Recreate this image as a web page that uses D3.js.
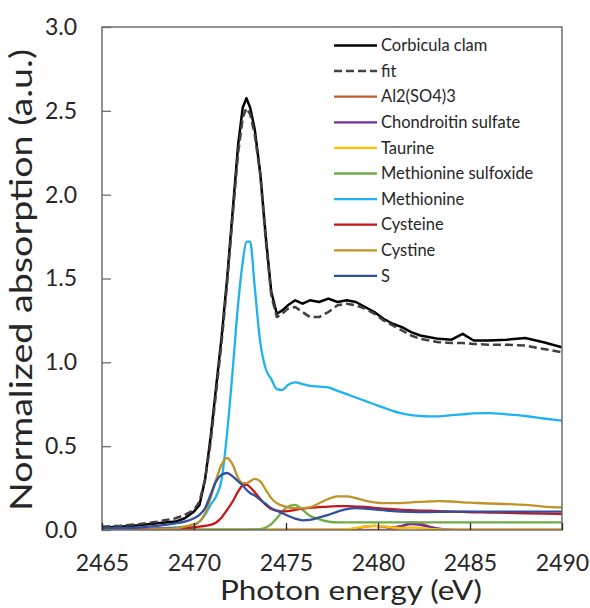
<!DOCTYPE html>
<html>
<head>
<meta charset="utf-8">
<script src="https://cdn.jsdelivr.net/npm/d3@7/dist/d3.min.js"></script>
<style>
  html, body { margin: 0; padding: 0; background: #fff; }
  svg { display: block; }
  text { font-family: Lato, "Open Sans", "DejaVu Sans", sans-serif; fill: #262626; }
</style>
</head>
<body>
<svg id="chart" width="590" height="608"></svg>
<script>
// ---------- data ----------
const energy = [2465, 2466, 2467, 2468, 2469, 2469.5, 2470, 2470.3, 2470.6, 2470.9,
  2471.2, 2471.5, 2471.8, 2472.1, 2472.4, 2472.65, 2472.85, 2473.05, 2473.3, 2473.6,
  2473.9, 2474.2, 2474.5, 2474.8, 2475.1, 2475.5, 2475.9, 2476.3, 2476.8, 2477.3,
  2477.8, 2478.3, 2478.8, 2479.3, 2479.8, 2480.3, 2480.8, 2481.3, 2481.8, 2482.3,
  2482.8, 2483.3, 2484, 2484.6, 2485.2, 2486, 2487, 2488, 2489, 2490];

const clam = [0.015, 0.02, 0.028, 0.04, 0.05, 0.07, 0.11, 0.15, 0.3, 0.55,
  0.85, 1.15, 1.5, 1.9, 2.3, 2.52, 2.575, 2.52, 2.39, 2.13,
  1.75, 1.42, 1.29, 1.31, 1.34, 1.37, 1.35, 1.37, 1.36, 1.38,
  1.36, 1.37, 1.36, 1.33, 1.30, 1.26, 1.23, 1.21, 1.18, 1.16,
  1.15, 1.14, 1.135, 1.17, 1.13, 1.13, 1.135, 1.145, 1.12, 1.09];

const fit = [0.02, 0.025, 0.035, 0.05, 0.07, 0.09, 0.12, 0.17, 0.3, 0.52,
  0.82, 1.12, 1.47, 1.87, 2.25, 2.46, 2.515, 2.48, 2.36, 2.12,
  1.73, 1.40, 1.27, 1.29, 1.32, 1.33, 1.30, 1.27, 1.27, 1.30,
  1.34, 1.35, 1.34, 1.32, 1.29, 1.25, 1.22, 1.19, 1.16, 1.14,
  1.13, 1.12, 1.115, 1.115, 1.11, 1.105, 1.105, 1.10, 1.08, 1.06];

const al2so43 = [0, 0, 0, 0, 0, 0, 0, 0, 0, 0,
  0, 0, 0, 0, 0, 0, 0, 0, 0, 0,
  0, 0, 0, 0, 0, 0, 0, 0, 0, 0,
  0, 0, 0, 0, 0, 0, 0.003, 0.02, 0.045, 0.04,
  0.02, 0.006, 0, 0, 0, 0, 0, 0, 0, 0];

const chondroitin = [0, 0, 0, 0, 0, 0, 0, 0, 0, 0,
  0, 0, 0, 0, 0, 0, 0, 0, 0, 0,
  0, 0, 0, 0, 0, 0, 0, 0, 0, 0,
  0, 0.003, 0.01, 0.02, 0.025, 0.02, 0.015, 0.025, 0.035, 0.03,
  0.018, 0.008, 0.002, 0, 0, 0, 0, 0, 0, 0];

const taurine = [0.002, 0.002, 0.002, 0.002, 0.002, 0.002, 0.002, 0.002, 0.002, 0.002,
  0.002, 0.002, 0.002, 0.002, 0.002, 0.002, 0.002, 0.002, 0.002, 0.002,
  0.002, 0.002, 0.002, 0.002, 0.002, 0.002, 0.002, 0.002, 0.002, 0.002,
  0.002, 0.005, 0.012, 0.02, 0.025, 0.022, 0.015, 0.012, 0.015, 0.012,
  0.006, 0.003, 0.002, 0.002, 0.002, 0.002, 0.002, 0.002, 0.002, 0.002];

const metSulfoxide = [0.002, 0.002, 0.002, 0.002, 0.002, 0.002, 0.002, 0.002, 0.002, 0.002,
  0.002, 0.002, 0.002, 0.002, 0.002, 0.002, 0.002, 0.003, 0.004, 0.005,
  0.015, 0.035, 0.07, 0.11, 0.14, 0.15, 0.12, 0.085, 0.065, 0.05,
  0.045, 0.045, 0.045, 0.045, 0.045, 0.045, 0.045, 0.045, 0.045, 0.045,
  0.045, 0.045, 0.045, 0.045, 0.045, 0.045, 0.045, 0.045, 0.045, 0.045];

const methionine = [0.005, 0.006, 0.008, 0.01, 0.015, 0.02, 0.03, 0.05, 0.09, 0.15,
  0.2, 0.3, 0.58, 0.95, 1.35, 1.6, 1.72, 1.72, 1.45, 1.12,
  0.96, 0.9, 0.84, 0.835, 0.865, 0.88, 0.87, 0.86, 0.855, 0.85,
  0.83, 0.81, 0.79, 0.77, 0.75, 0.73, 0.71, 0.695, 0.685, 0.68,
  0.678, 0.678, 0.685, 0.69, 0.695, 0.697, 0.69, 0.68, 0.665, 0.652];

const cysteine = [0.005, 0.005, 0.006, 0.008, 0.01, 0.012, 0.015, 0.02, 0.025, 0.03,
  0.045, 0.075, 0.12, 0.17, 0.23, 0.265, 0.27, 0.255, 0.225, 0.185,
  0.15, 0.125, 0.115, 0.11, 0.112, 0.12, 0.128, 0.132, 0.136, 0.14,
  0.142, 0.142, 0.14, 0.138, 0.132, 0.128, 0.124, 0.12, 0.118, 0.116,
  0.115, 0.113, 0.11, 0.108, 0.106, 0.104, 0.102, 0.1, 0.098, 0.095];

const cystine = [0, 0, 0.002, 0.005, 0.01, 0.02, 0.035, 0.05, 0.1, 0.19,
  0.3, 0.39, 0.43, 0.39, 0.31, 0.28, 0.28, 0.29, 0.305, 0.29,
  0.24, 0.19, 0.16, 0.145, 0.135, 0.13, 0.13, 0.135, 0.16, 0.185,
  0.2, 0.2, 0.19, 0.175, 0.165, 0.16, 0.16, 0.16, 0.165, 0.168,
  0.17, 0.172, 0.17, 0.165, 0.162, 0.158, 0.155, 0.15, 0.14, 0.135];

const sulfur = [0.01, 0.012, 0.015, 0.025, 0.04, 0.05, 0.07, 0.09, 0.13, 0.21,
  0.29, 0.33, 0.34, 0.32, 0.29, 0.265, 0.24, 0.22, 0.205, 0.18,
  0.155, 0.13, 0.115, 0.1, 0.085, 0.068, 0.058, 0.06, 0.075, 0.09,
  0.11, 0.125, 0.13, 0.128, 0.123, 0.118, 0.113, 0.11, 0.108, 0.107,
  0.107, 0.108, 0.11, 0.11, 0.11, 0.11, 0.11, 0.11, 0.11, 0.11];

const seriesNames = ["Corbicula clam", "fit", "Al2(SO4)3", "Chondroitin sulfate", "Taurine",
  "Methionine sulfoxide", "Methionine", "Cysteine", "Cystine", "S"];
const seriesValues = [clam, fit, al2so43, chondroitin, taurine, metSulfoxide, methionine, cysteine, cystine, sulfur];
const seriesColors = ["#000000", "#404040", "#C55A2B", "#7030A0", "#FFC000", "#70AD47",
  "#1FB2EE", "#C8161D", "#BF9328", "#2F4F9F"];
const seriesDash = [null, "8,4", null, null, null, null, null, null, null, null];

const xTicks = [2465, 2470, 2475, 2480, 2485, 2490];
const yTicks = [0, 0.5, 1.0, 1.5, 2.0, 2.5, 3.0];
const xTitle = "Photon energy (eV)";
const yTitle = "Normalized absorption (a.u.)";

// ---------- layout ----------
const svg = d3.select("#chart");
const plot = { left: 102, right: 562, top: 27, bottom: 530 };
const x = d3.scaleLinear().domain([2465, 2490]).range([plot.left, plot.right]);
const y = d3.scaleLinear().domain([0, 3]).range([plot.bottom, plot.top]);

const g = svg.append("g");

svg.append("defs").append("clipPath").attr("id", "clip")
  .append("rect").attr("x", plot.left).attr("y", plot.top - 2)
  .attr("width", plot.right - plot.left).attr("height", plot.bottom - plot.top + 2);

const curves = g.append("g").attr("clip-path", "url(#clip)");
seriesValues.forEach((vals, i) => {
  const pts = energy.map((e, k) => [e, vals[k]]);
  const line = d3.line()
    .x(d => x(d[0])).y(d => y(d[1]))
    .curve(i < 2 ? d3.curveLinear : d3.curveMonotoneX);
  curves.append("path")
    .datum(pts)
    .attr("d", line)
    .attr("fill", "none")
    .attr("stroke", seriesColors[i])
    .attr("stroke-width", i < 2 ? 2.5 : 2.3)
    .attr("stroke-linejoin", "round")
    .attr("stroke-dasharray", seriesDash[i]);
});

// frame
g.append("rect")
  .attr("x", plot.left).attr("y", plot.top)
  .attr("width", plot.right - plot.left).attr("height", plot.bottom - plot.top)
  .attr("fill", "none").attr("stroke", "#6e6e6e").attr("stroke-width", 1.5);

// axes with inward ticks
const yAxis = d3.axisLeft(y).tickValues(yTicks).tickFormat(d3.format(".1f"))
  .tickSizeInner(-9).tickSizeOuter(0).tickPadding(25);
const yg = g.append("g").attr("transform", `translate(${plot.left},0)`).call(yAxis);
yg.select(".domain").remove();
yg.selectAll(".tick line").attr("stroke", "#6e6e6e").attr("stroke-width", 1.3);
yg.selectAll(".tick text").style("font-size", "23px").attr("fill", "#262626")
  .style("font-family", "Lato, 'Open Sans', sans-serif");

const xAxis = d3.axisBottom(x).tickValues(xTicks).tickFormat(d3.format("d"))
  .tickSizeInner(-7).tickSizeOuter(0).tickPadding(25);
const xg = g.append("g").attr("transform", `translate(0,${plot.bottom})`).call(xAxis);
xg.select(".domain").remove();
xg.selectAll(".tick line").attr("stroke", "#262626").attr("stroke-width", 1.3);
xg.selectAll(".tick text").style("font-size", "23px").attr("fill", "#262626")
  .style("font-family", "Lato, 'Open Sans', sans-serif");

// axis titles (narrow like the reference face: stretch to its extents)
svg.append("text")
  .attr("x", 351).attr("y", 600)
  .attr("text-anchor", "middle")
  .style("font-size", "27px")
  .attr("textLength", 262)
  .attr("lengthAdjust", "spacingAndGlyphs")
  .text(xTitle);

svg.append("text")
  .attr("transform", `translate(32,280) rotate(-90)`)
  .attr("text-anchor", "middle")
  .style("font-size", "31px")
  .attr("textLength", 462)
  .attr("lengthAdjust", "spacingAndGlyphs")
  .text(yTitle);

// legend
const legend = svg.append("g");
const legX0 = 334, legX1 = 377, legY0 = 45.5, legStep = 25.6;
seriesNames.forEach((name, i) => {
  const yy = legY0 + i * legStep;
  legend.append("line")
    .attr("x1", legX0).attr("x2", legX1).attr("y1", yy).attr("y2", yy)
    .attr("stroke", seriesColors[i]).attr("stroke-width", i < 2 ? 2.5 : 2.3)
    .attr("stroke-dasharray", seriesDash[i]);
  legend.append("text")
    .attr("x", legX1 + 4).attr("y", yy).attr("dy", "0.35em")
    .style("font-size", "16.5px")
    .text(name);
});
</script>
</body>
</html>
